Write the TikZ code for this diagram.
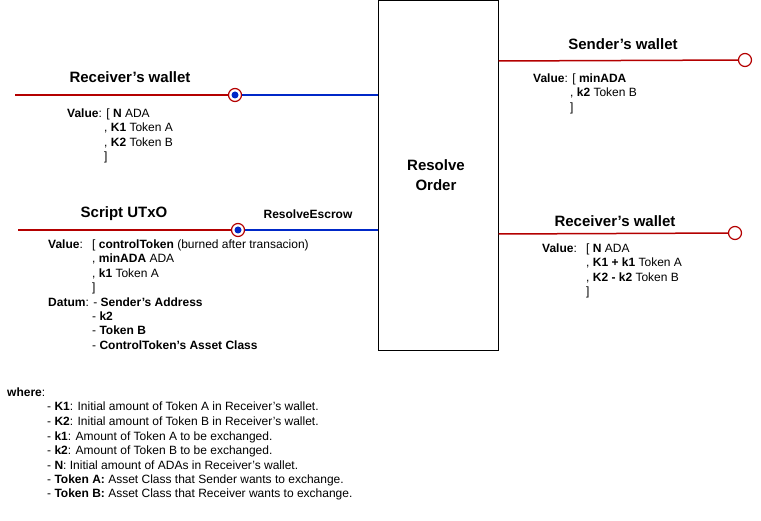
\documentclass[tikz,border=0pt]{standalone}
\usepackage{fontspec}
\setmainfont{Liberation Sans}
\definecolor{myred}{RGB}{180,0,0}
\definecolor{myblue}{RGB}{0,40,200}
\newcommand{\q}{\char39\relax}
\begin{document}
\begin{tikzpicture}[x=1pt,y=-1pt,
  t/.style={anchor=base west,inner sep=0,font=\fontsize{12}{14}\selectfont},
  ttl/.style={inner sep=0,font=\fontsize{15}{18}\selectfont\bfseries},
  red/.style={draw=myred,line width=1.5pt},
  blu/.style={draw=myblue,line width=1.5pt},
  port/.style={circle,draw=myred,line width=1.2pt,fill=white,minimum size=13pt,inner sep=0}]
\useasboundingbox (0,0) rectangle (761,521);
\node[draw,line width=0.6pt,minimum width=120pt,minimum height=350pt,anchor=north west,inner sep=0] (box) at (378,0) {};
\node[ttl,align=center] (ro) at (436,175) {Resolve\\[2pt]Order};
% left receiver
\coordinate (a0) at (15,95);
\node[port] (p1) at (235,95) {};
\fill[myblue] (p1) circle (3.5pt);
\draw[red] (a0) -- (p1);
\draw[blu] (p1) -- (box.west |- p1);
\node[ttl] (rw1) at (130,77) {Receiver\q s wallet};
\node[t] (v1) at (67,118) {\textbf{Value}: [ \textbf{N} ADA};
\node[t] (v1b) at (104,132) {, \textbf{K1} Token A};
\node[t] (v1c) at (104,147) {, \textbf{K2} Token B};
\node[t] (v1d) at (104,161) {]};
% script utxo
\coordinate (b0) at (18,230);
\node[port] (p2) at (238,230) {};
\fill[myblue] (p2) circle (3.5pt);
\draw[red] (b0) -- (p2);
\draw[blu] (p2) -- (box.west |- p2);
\node[ttl] (su) at (124,214) {Script UTxO};
\node[inner sep=0,font=\fontsize{12}{14}\selectfont\bfseries] (re) at (308,214) {ResolveEscrow};
\node[t] (s1) at (48,249) {\textbf{Value}:};
\node[t] (s1b) at (92,249) {[ \textbf{controlToken} (burned after transacion)};
\node[t] (s2) at (92,263) {, \textbf{minADA} ADA};
\node[t] (s3) at (92,278) {, \textbf{k1} Token A};
\node[t] (s4) at (92,292) {]};
\node[t] (d0) at (48,307) {\textbf{Datum}: - \textbf{Sender\q s Address}};
\node[t] (d1) at (92,321) {- \textbf{k2}};
\node[t] (d2) at (92,335) {- \textbf{Token B}};
\node[t] (d3) at (92,350) {- \textbf{ControlToken\q s Asset Class}};
% sender
\node[port] (p3) at (745,60) {};
\draw[red] (box.east |- 0,61) -- (p3);
\node[ttl] (sw) at (623,44) {Sender\q s wallet};
\node[t] (w1) at (533,83) {\textbf{Value}: [ \textbf{minADA}};
\node[t] (w2) at (570,97) {, \textbf{k2} Token B};
\node[t] (w3) at (570,112) {]};
% right receiver
\node[port] (p4) at (735,233) {};
\draw[red] (box.east |- 0,234) -- (p4);
\node[ttl] (rw2) at (615,221) {Receiver\q s wallet};
\node[t] (r1) at (542,253) {\textbf{Value}:};
\node[t] (r1b) at (586,253) {[ \textbf{N} ADA};
\node[t] (r2) at (586,267) {, \textbf{K1 + k1} Token A};
\node[t] (r3) at (586,282) {, \textbf{K2 - k2} Token B};
\node[t] (r4) at (586,296) {]};
% where
\node[t] (wh) at (7,397) {\textbf{where}:};
\node[t] (l1) at (47,411) {- \textbf{K1}: Initial amount of Token A in Receiver\q s wallet.};
\node[t] (l2) at (47,426) {- \textbf{K2}: Initial amount of Token B in Receiver\q s wallet.};
\node[t] (l3) at (47,440) {- \textbf{k1}: Amount of Token A to be exchanged.};
\node[t] (l4) at (47,454) {- \textbf{k2}: Amount of Token B to be exchanged.};
\node[t] (l5) at (47,469) {- \textbf{N}: Initial amount of ADAs in Receiver\q s wallet.};
\node[t] (l6) at (47,483) {- \textbf{Token A:} Asset Class that Sender wants to exchange.};
\node[t] (l7) at (47,497) {- \textbf{Token B:} Asset Class that Receiver wants to exchange.};
\end{tikzpicture}
\end{document}
